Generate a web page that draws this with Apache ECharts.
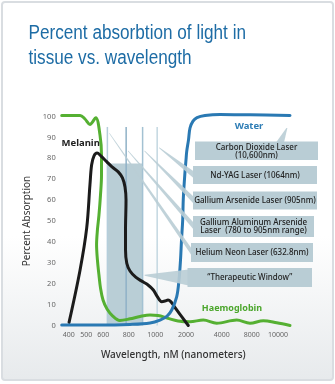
<!DOCTYPE html>
<html>
<head>
<meta charset="utf-8">
<script src="https://cdn.jsdelivr.net/npm/echarts@6/dist/echarts.min.js"></script>
<style>
  html, body { margin: 0; padding: 0; background: #ffffff; }
  #wrap { position: relative; width: 335px; height: 384px; }
  #frame {
    position: absolute; left: 1px; top: 1px; width: 329px; height: 376px;
    border: 2px solid #d9dde1; border-radius: 4px;
    background: linear-gradient(to bottom, #ffffff 0%, #ffffff 62%, #e7eaec 100%);
  }
  #chart { position: absolute; left: 0; top: 0; width: 335px; height: 384px; }
</style>
</head>
<body>
<div id="wrap"><div id="frame"></div><div id="chart"></div></div>
<script>
// Wavelength axis: labelled wavelengths and where each sits along the axis
const xTickNm  = [400, 500, 600, 800, 1000, 2000, 4000, 8000, 10000];
const xTickPos = [0, 17.5, 34.5, 60, 86.5, 117.3, 153, 183, 209.3];

// Absorption curves: wavelength (nm) and percent absorbed
const haemoglobinNm  = [360, 465, 493, 522, 556, 581, 590, 590, 584, 575, 566, 561, 566, 575, 584, 599, 630, 675, 730, 810, 885, 961, 1091, 1416, 1740, 2224, 2969, 3720, 6000, 7773, 8882, 9901, 10912];
const haemoglobinPct = [100.5, 100.5, 98.8, 96.2, 99.4, 91.2, 81.6, 72.0, 62.4, 52.8, 45.7, 38.6, 31.4, 24.2, 18.0, 12.2, 7.9, 4.5, 2.4, 3.2, 4.3, 5.0, 4.8, 3.4, 2.2, 1.8, 2.6, 1.1, 2.6, 1.1, 2.3, 1.3, 0];

const melaninNm  = [402, 465, 503, 522, 532, 546, 564, 586, 627, 669, 718, 751, 771, 779, 775, 775, 785, 810, 855, 910, 946, 986, 1058, 1211, 1318, 1416, 1513, 1610, 1860, 2129];
const melaninPct = [1.5, 26.6, 46.7, 67.3, 76.9, 81.2, 82.5, 81.2, 78.4, 75.9, 73.5, 70.6, 66.3, 60.1, 45.7, 36.2, 29.8, 26.1, 23.0, 20.8, 19.4, 17.0, 14.1, 11.4, 11.7, 12.2, 11.3, 9.3, 4.2, 0];

const waterNm  = [360, 581, 810, 961, 1156, 1386, 1537, 1699, 1773, 1822, 1854, 1893, 1913, 1968, 2000, 2039, 2140, 2224, 2392, 2616, 3064, 3905, 7773, 10912];
const waterPct = [0.2, 0.2, 0.5, 1.2, 2.6, 4.5, 7.4, 13.8, 21.8, 31.4, 40.9, 50.5, 60.9, 73.6, 79.2, 83.2, 88.8, 94.5, 97.8, 99.5, 100.5, 101.0, 100.8, 100.5];

// Lasers and the therapeutic window
const laserLineNm = [632.8, 780, 905, 1064];
const laserLineTopPct = 95;
const windowNm = [632.8, 905];
const windowTopPct = 77.5;

const calloutText = [
  'Carbon Dioxide Laser\n(10,600nm)',
  'Nd-YAG Laser (1064nm)',
  'Gallium Arsenide Laser (905nm)',
  'Gallium Aluminum Arsenide\nLaser  (780 to 905nm range)',
  'Helium Neon Laser (632.8nm)',
  '\u201CTherapeutic Window\u201D'
];
const calloutNm  = [10600, 1064, 905, 780, 632.8, 905];
const calloutPct = [94.5, 85, 83.5, 83.5, 92, 24];

// piecewise-linear placement of a wavelength along the axis
function nmToPos(nm) {
  const n = xTickNm.length;
  let i = 0;
  if (nm >= xTickNm[n - 1]) i = n - 2;
  else if (nm > xTickNm[0]) { while (nm > xTickNm[i + 1]) i++; }
  const t = (nm - xTickNm[i]) / (xTickNm[i + 1] - xTickNm[i]);
  return xTickPos[i] + t * (xTickPos[i + 1] - xTickPos[i]);
}
const toPoints = (nm, pct) => nm.map((w, i) => [nmToPos(w), pct[i]]);

const FONT = '"Noto Sans", "Open Sans", sans-serif';
const chart = echarts.init(document.getElementById('chart'), null, { renderer: 'canvas' });

const curve = (name, nm, pct, color) => ({
  name, type: 'line', data: toPoints(nm, pct), smooth: 0.35,
  showSymbol: false, clip: false, z: 4, silent: true,
  lineStyle: { color, width: 3, cap: 'round', join: 'round' }
});

chart.setOption({
  animation: false,
  grid: { left: 61.7, right: 44.3, top: 116.5, bottom: 58.5 },
  xAxis: {
    type: 'value', min: -7, max: 222,
    axisLine: { show: false }, axisTick: { show: false }, splitLine: { show: false },
    axisLabel: {
      customValues: xTickPos, margin: 6, fontSize: 7, fontFamily: FONT, color: '#666',
      formatter: v => { const i = xTickPos.findIndex(p => Math.abs(p - v) < 0.01); return i >= 0 ? String(xTickNm[i]) : ''; }
    }
  },
  yAxis: {
    type: 'value', min: 0, max: 100, interval: 10,
    name: 'Percent Absorption', nameLocation: 'middle', nameGap: 28, nameRotate: 90,
    nameTextStyle: { fontSize: 10, fontFamily: FONT, color: '#333' },
    axisLine: { show: false }, axisTick: { show: false }, splitLine: { show: false },
    axisLabel: { margin: 6, fontSize: 7.5, fontFamily: FONT, color: '#666' }
  },
  series: [
    {
      type: 'custom', z: 1, silent: true,
      data: [[nmToPos(windowNm[0]), nmToPos(windowNm[1]), windowTopPct]],
      encode: { x: [0, 1], y: 2 },
      renderItem: (params, api) => {
        const a = api.coord([api.value(0), api.value(2)]);
        const b = api.coord([api.value(1), 0]);
        return { type: 'rect', shape: { x: a[0], y: a[1], width: b[0] - a[0], height: b[1] - a[1] }, style: { fill: '#b9ced6' } };
      }
    },
    {
      type: 'custom', z: 2, silent: true,
      data: laserLineNm.map(nm => [nmToPos(nm), laserLineTopPct]),
      encode: { x: 0, y: 1 },
      renderItem: (params, api) => {
        const top = api.coord([api.value(0), api.value(1)]);
        const bot = api.coord([api.value(0), 0]);
        const colors = ['#b5cedb', '#8fb1c7', '#a3c1d2', '#c3d7e1'];
        return { type: 'line', shape: { x1: top[0], y1: top[1], x2: bot[0], y2: bot[1] }, style: { stroke: colors[params.dataIndex], lineWidth: 1.5 } };
      }
    },
    curve('Haemoglobin', haemoglobinNm, haemoglobinPct, '#55b032'),
    curve('Melanin', melaninNm, melaninPct, '#1b1b1b'),
    curve('Water', waterNm, waterPct, '#2a79b3')
  ]
});

// Callout boxes with their pointers
const boxLayout = [
  { x: 195, y: 141.5, w: 123, h: 18.5, base: 'top' },
  { x: 193, y: 166,   w: 124, h: 18 },
  { x: 193, y: 191.5, w: 124, h: 18 },
  { x: 193, y: 216,   w: 121, h: 21 },
  { x: 191, y: 243,   w: 122, h: 19 },
  { x: 187.5, y: 268, w: 124.5, h: 19, wide: true }
];
const BOX = '#b9cdd5';
const graphics = [];
boxLayout.forEach((b, i) => {
  const tip = chart.convertToPixel({ gridIndex: 0 }, [nmToPos(calloutNm[i]), calloutPct[i]]);
  let pts;
  if (b.base === 'top') {
    const tx = tip[0] + 1;
    pts = [[tx - 0.5, tip[1]], [b.x + b.w - 42, b.y + 1], [b.x + b.w - 34, b.y + 1], [tx + 0.5, tip[1]]];
  } else {
    const tx = tip[0] + 2;
    const cy = b.y + b.h / 2;
    const hw = b.wide ? 8 : 3.5;
    pts = [[tx, tip[1] - 0.5], [b.x + 1, cy - hw], [b.x + 1, cy + hw], [tx, tip[1] + 0.5]];
  }
  graphics.push({ type: 'polygon', z: 5, silent: true, shape: { points: pts }, style: { fill: BOX, opacity: 0.9 } });
  graphics.push({ type: 'rect', z: 6, silent: true, shape: { x: b.x, y: b.y, width: b.w, height: b.h }, style: { fill: BOX } });
  graphics.push({
    type: 'text', z: 7, silent: true,
    style: { text: calloutText[i], x: b.x + b.w / 2, y: b.y + b.h / 2 + 0.5, align: 'center', verticalAlign: 'middle',
             font: '500 8px ' + FONT, lineHeight: 8, fill: '#222' }
  });
});

// Title, curve names and the wavelength title
graphics.push(
  { type: 'text', z: 8, silent: true, x: 28.5, y: 21, scaleX: 0.88,
    style: { text: 'Percent absorbtion of light in\ntissue vs. wavelength', x: 0, y: 0, verticalAlign: 'top',
             font: '19.5px "Liberation Sans", Arial, sans-serif', lineHeight: 25, fill: '#1d6ca5' } },
  { type: 'text', z: 8, silent: true, style: { text: 'Melanin', x: 61.5, y: 143.5, verticalAlign: 'middle', font: 'bold 9.5px ' + FONT, fill: '#222' } },
  { type: 'text', z: 8, silent: true, style: { text: 'Water', x: 249, y: 126, align: 'center', verticalAlign: 'middle', font: 'bold 9.5px ' + FONT, fill: '#2e7db5' } },
  { type: 'text', z: 8, silent: true, style: { text: 'Haemoglobin', x: 232, y: 308.5, align: 'center', verticalAlign: 'middle', font: 'bold 9px ' + FONT, fill: '#4ba62c' } },
  { type: 'text', z: 8, silent: true, style: { text: 'Wavelength, nM (nanometers)', x: 173.3, y: 355, align: 'center', verticalAlign: 'middle', font: '500 10px ' + FONT, fill: '#333' } }
);
chart.setOption({ graphic: { elements: graphics } });
</script>
</body>
</html>
